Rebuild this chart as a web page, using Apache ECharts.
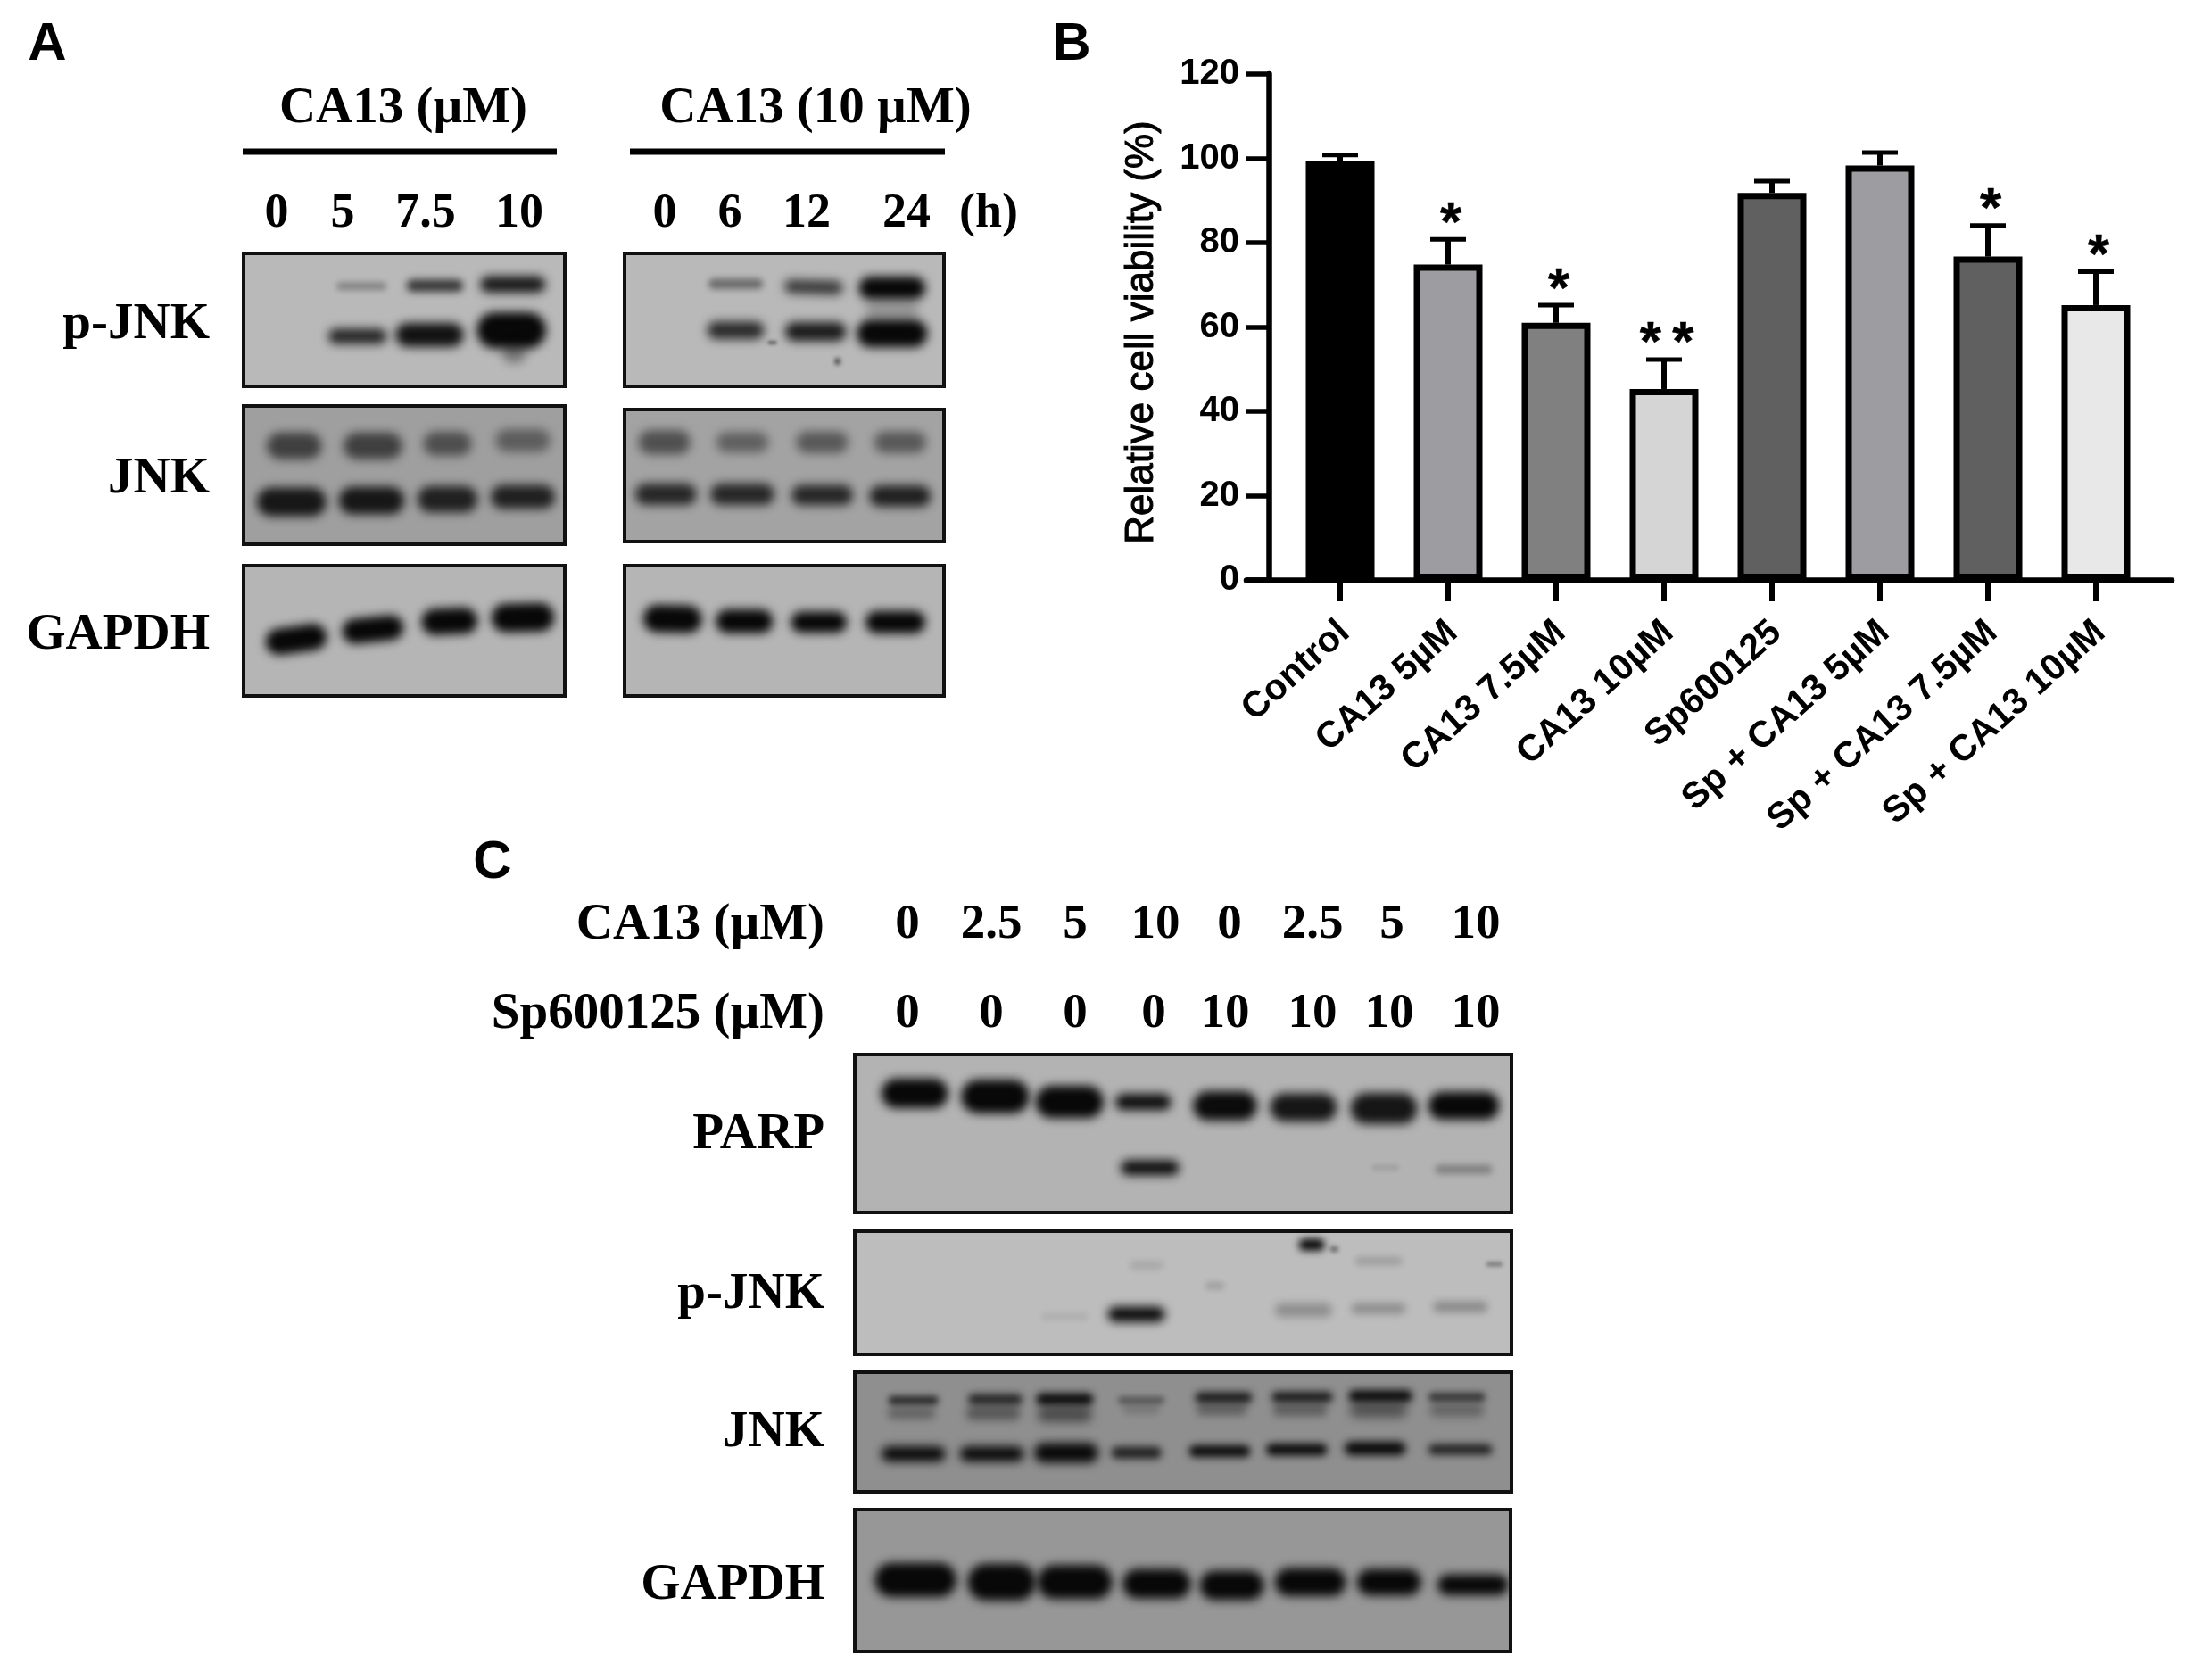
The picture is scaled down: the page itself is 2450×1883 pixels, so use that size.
<!DOCTYPE html>
<html><head><meta charset="utf-8">
<style>html,body{margin:0;padding:0;background:#fff}#c{width:2450px;height:1883px}</style>
<script src="https://cdn.jsdelivr.net/npm/echarts@6/dist/echarts.min.js"></script>
</head><body><div id="c"></div>
<script>
// ---------- Panel B data ----------
const categories = ['Control','CA13 5µM','CA13 7.5µM','CA13 10µM','Sp600125','Sp + CA13 5µM','Sp + CA13 7.5µM','Sp + CA13 10µM'];
const viability  = [99.3, 74.8, 61.0, 45.3, 91.8, 98.3, 76.7, 65.2];
const errorTop   = [100.8, 80.8, 65.2, 52.3, 94.6, 101.4, 84.1, 73.1];
const significance = ['', '*', '*', '*\u2009*', '', '', '*', '*'];
const yTicks = [0, 20, 40, 60, 80, 100, 120];

// ---------- Blot bands: [lane x, band y, width, height, density, tilt] ----------
const aPjnk1 = [[543,628,75,10,.28,0],[653,627,85,17,.72,0],[770,624,98,24,.88,0],[537,738,88,22,.82,0],[645,735,102,36,.92,0],[768,725,104,56,1,0],[772,775,36,30,.35,0]];
const aPjnk2 = [[1105,623,82,14,.42,0],[1222,630,88,20,.7,-.03],[1340,632,100,34,1,0],[1105,725,86,26,.78,0],[1225,728,92,28,.86,0],[1340,732,106,42,1,0],[1340,680,80,30,.18,0],[1258,793,8,8,.7,0],[1160,752,14,3,.5,0]];
const aJnk1  = [[442,980,82,40,.62,0],[560,980,88,40,.62,0],[672,975,72,36,.52,0],[785,968,82,34,.42,0],[438,1103,104,44,.88,0],[558,1100,98,42,.88,0],[672,1097,90,40,.82,0],[785,1092,96,36,.82,0]];
const aJnk2  = [[998,972,78,36,.52,0],[1115,972,78,30,.42,0],[1235,972,78,32,.47,0],[1352,972,78,32,.47,0],[1000,1086,92,32,.78,0],[1115,1086,96,32,.78,0],[1235,1088,92,30,.78,0],[1352,1090,92,32,.82,0]];
const aGapdh1 = [[445,1405,92,40,1,.14],[560,1383,92,38,1,.1],[675,1365,84,40,1,.04],[785,1357,94,44,1,.02]];
const aGapdh2 = [[1010,1360,88,42,1,-.02],[1118,1365,86,36,1,0],[1230,1367,84,32,1,0],[1345,1367,90,34,1,0]];
const cParp = [[660,487,98,38,1,0],[778,493,100,44,1,0],[887,503,100,42,1,0],[995,503,82,20,.95,0],[1115,510,94,38,.96,0],[1230,513,98,36,.9,0],[1348,515,98,40,.9,0],[1465,510,104,36,1,0],[1005,625,86,18,.95,0],[1350,625,40,6,.1,0],[1465,628,84,10,.28,0]];
const cPjnk = [[1000,805,50,10,.1,0],[1242,767,38,14,1,0],[1275,775,12,6,.45,0],[1340,797,70,10,.15,0],[1510,803,24,4,.35,0],[1100,843,28,8,.15,0],[880,900,70,8,.07,0],[985,896,84,18,1,0],[1230,888,84,16,.25,0],[1340,885,80,12,.25,0],[1460,882,80,12,.27,0]];
const cJnk = [[658,1056,74,10,.72,0],[778,1054,80,12,.78,0],[880,1054,84,14,.95,0],[992,1056,68,8,.4,0],[1113,1051,84,12,.85,0],[1228,1050,90,12,.85,0],[1343,1048,94,14,.95,0],[1455,1050,84,10,.62,0],
  [655,1080,70,14,.3,0],[775,1080,80,16,.4,0],[880,1082,80,18,.5,0],[992,1074,54,10,.15,0],[1110,1074,74,12,.35,0],[1225,1074,80,14,.35,0],[1340,1074,84,18,.45,0],[1455,1074,80,16,.3,0],
  [658,1155,94,18,1,0],[773,1155,94,18,1,0],[882,1153,94,24,1,0],[985,1153,74,14,.8,0],[1107,1150,90,14,.95,0],[1220,1147,90,14,.95,0],[1335,1145,90,16,1,0],[1460,1147,94,12,.8,0]];
const cGapdh = [[662,1388,120,44,1,0],[788,1392,100,48,1,0],[895,1392,110,44,1,0],[1015,1395,100,38,1,0],[1125,1398,94,38,1,0],[1240,1392,104,36,1,0],[1355,1392,94,34,1,0],[1478,1397,104,26,1,0]];

// ---------- Text labels ----------
const aDoseLabels = ['0','5','7.5','10'];
const aTimeLabels = ['0','6','12','24','(h)'];
const cCa13Labels = ['0','2.5','5','10','0','2.5','5','10'];
const cSpLabels   = ['0','0','0','0','10','10','10','10'];
const aRowLabels  = ['p-JNK','JNK','GAPDH'];
const cRowLabels  = ['PARP','p-JNK','JNK','GAPDH'];

// ---------- Layout ----------
const barFills = ['#000000','#9c9ca1','#808080','#d5d5d5','#606060','#9c9ca1','#606060','#e8e8e8'];
const panels = [
  {box:[273,284,360,149], dom:[366,848,556,848],   bg:'#b9b9b9', bands:aPjnk1},
  {box:[700,284,358,149], dom:[938,1418,556,848],  bg:'#b9b9b9', bands:aPjnk2},
  {box:[273,455,360,155], dom:[366,848,892,1196],  bg:'#9f9f9f', bands:aJnk1},
  {box:[700,459,358,148], dom:[938,1418,900,1190], bg:'#a3a3a3', bands:aJnk2},
  {box:[273,634,360,146], dom:[366,848,1242,1530], bg:'#b5b5b5', bands:aGapdh1},
  {box:[700,634,358,146], dom:[938,1418,1242,1530],bg:'#b5b5b5', bands:aGapdh2},
  {box:[958,1182,736,177],dom:[572,1535,415,708],  bg:'#b3b3b3', bands:cParp},
  {box:[958,1380,736,138],dom:[572,1535,742,970],  bg:'#bdbdbd', bands:cPjnk},
  {box:[958,1538,736,134],dom:[572,1535,1004,1225],bg:'#8f8f8f', bands:cJnk},
  {box:[958,1692,735,159],dom:[573,1533,1258,1520],bg:'#979797', bands:cGapdh}
];

const SHADOW_SHIFT=3000;
const grids=[], xAxes=[], yAxes=[], series=[];
panels.forEach((p,i)=>{
  grids.push({left:p.box[0],top:p.box[1],width:p.box[2],height:p.box[3],show:true,backgroundColor:p.bg,borderColor:'#111',borderWidth:4,z:1});
  xAxes.push({type:'value',gridIndex:i,min:p.dom[0],max:p.dom[1],show:false});
  yAxes.push({type:'value',gridIndex:i,min:p.dom[2],max:p.dom[3],inverse:true,show:false});
  series.push({type:'custom',xAxisIndex:i,yAxisIndex:i,clip:true,data:p.bands,z:2,animation:false,silent:true,
    encode:{x:0,y:1},
    renderItem:(params,api)=>{
      const c=api.coord([api.value(0),api.value(1)]);
      const s=api.size([api.value(2),api.value(3)]);
      const d=api.value(4), w=s[0], h=s[1]*1.35+2;
      const blur=Math.min(h*0.55,9)+1.5;
      // only the soft shadow of the band lands inside the panel
      return {type:'rect',x:c[0]-SHADOW_SHIFT,y:c[1],originX:0,originY:0,rotation:api.value(5),
        shape:{x:-w/2,y:-h/2,width:w,height:h,r:h/2},
        style:{fill:'#000',shadowBlur:blur,shadowOffsetX:SHADOW_SHIFT,shadowColor:`rgba(8,8,8,${Math.min(1,d*1.02)})`}};
    }});
});

// Panel B : main grid + one that only carries the long baseline
const gB=panels.length, gL=gB+1;
grids.push({left:1441.5,top:83,width:968,height:567});
grids.push({left:1397,top:83,width:1037,height:567});
const black='#000';
xAxes.push({type:'category',gridIndex:gB,data:categories,axisLine:{show:false},
  axisTick:{show:true,alignWithLabel:true,length:24,lineStyle:{width:6,color:black}},
  axisLabel:{interval:0,rotate:42,margin:30,verticalAlign:'top',padding:[0,12,0,0],color:black,fontFamily:'Liberation Sans',fontWeight:'bold',fontSize:41}});
yAxes.push({type:'value',gridIndex:gB,min:0,max:120,interval:20,offset:19.5,splitLine:{show:false},
  axisLine:{show:true,lineStyle:{width:6.5,color:black}},
  axisTick:{show:true,length:25,lineStyle:{width:5.5,color:black}},
  axisLabel:{margin:33,color:black,fontFamily:'Liberation Sans',fontWeight:'bold',fontSize:40,
    customValues:yTicks},
  name:'Relative cell viability (%)',nameLocation:'middle',nameRotate:90,nameGap:120,
  nameTextStyle:{color:black,fontFamily:'Liberation Sans',fontSize:44,fontWeight:'normal',padding:[0,12,0,0],textBorderColor:black,textBorderWidth:1}});
xAxes.push({type:'value',gridIndex:gL,min:0,max:1,show:true,splitLine:{show:false},axisTick:{show:false},axisLabel:{show:false},
  axisLine:{show:true,onZero:false,lineStyle:{width:6.5,color:black}}});
yAxes.push({type:'value',gridIndex:gL,min:0,max:1,show:false});

series.push({type:'custom',xAxisIndex:gB,yAxisIndex:gB,z:3,animation:false,silent:true,
  data:categories.map((c,i)=>[i,viability[i],errorTop[i]]),encode:{x:0,y:2},
  renderItem:(params,api)=>{
    const a=api.coord([api.value(0),api.value(1)]), b=api.coord([api.value(0),api.value(2)]);
    const st={stroke:black,lineWidth:6};
    return {type:'group',children:[
      {type:'line',shape:{x1:a[0],y1:a[1],x2:b[0],y2:b[1]},style:st},
      {type:'line',shape:{x1:b[0]-20,y1:b[1],x2:b[0]+20,y2:b[1]},style:{stroke:black,lineWidth:5}}
    ]};
  }});
series.push({type:'bar',xAxisIndex:gB,yAxisIndex:gB,barWidth:77,z:4,animation:false,silent:true,
  data:viability.map((v,i)=>({value:v,itemStyle:{color:barFills[i],borderColor:black,borderWidth:7}}))});
series.push({type:'scatter',xAxisIndex:gB,yAxisIndex:gB,symbolSize:1,itemStyle:{color:'rgba(0,0,0,0)'},z:5,animation:false,silent:true,
  data:errorTop.map((v,i)=>[i,v]),
  label:{show:true,position:'top',distance:-15,offset:[3,0],color:black,opacity:1,fontFamily:'Liberation Sans',fontWeight:'bold',fontSize:62,
    textBorderColor:black,textBorderWidth:0.5,
    formatter:p=>significance[p.dataIndex]}});

// ---------- Annotations ----------
const serif='"Liberation Serif"', sans='"Liberation Sans"';
const txt=(text,x,y,size,align,fam)=>({type:'text',x,y,z:20,silent:true,style:{text,font:`bold ${size}px ${fam||serif}`,fill:'#000',
  align:align||'center',verticalAlign:'middle',textAlign:align||'center',textVerticalAlign:'middle'}});
const rule=(x1,x2,y)=>({type:'rect',z:20,silent:true,shape:{x:x1,y:y-3.5,width:x2-x1,height:7},style:{fill:'#000'}});
const gfx=[
  txt('A',53,50,60,'center',sans),txt('B',1201,50,60,'center',sans),txt('C',552,967,60,'center',sans),
  txt('CA13 (µM)',452,122,57),txt('CA13 (10 µM)',914,122,57),rule(272,624,170),rule(706,1059,170)
];
[310,384,477,582].forEach((x,i)=>gfx.push(txt(aDoseLabels[i],x,240,54)));
[745,818,904,1016,1108].forEach((x,i)=>gfx.push(txt(aTimeLabels[i],x,240,54)));
[364,537,712].forEach((y,i)=>gfx.push(txt(aRowLabels[i],235,y,57,'right')));
gfx.push(txt('CA13 (µM)',924,1037,57,'right'),txt('Sp600125 (µM)',924,1137,57,'right'));
[1017,1111,1205,1295,1378,1471,1560,1654].forEach((x,i)=>gfx.push(txt(cCa13Labels[i],x,1037,55)));
[1017,1111,1205,1293,1373,1471,1557,1654].forEach((x,i)=>gfx.push(txt(cSpLabels[i],x,1137,55)));
[1272,1451,1606,1777].forEach((y,i)=>gfx.push(txt(cRowLabels[i],924,y,57,'right')));

const chart=echarts.init(document.getElementById('c'),null,{renderer:'canvas',width:2450,height:1883});
chart.setOption({backgroundColor:'#fff',animation:false,grid:grids,xAxis:xAxes,yAxis:yAxes,series,graphic:{elements:gfx}});
</script></body></html>
